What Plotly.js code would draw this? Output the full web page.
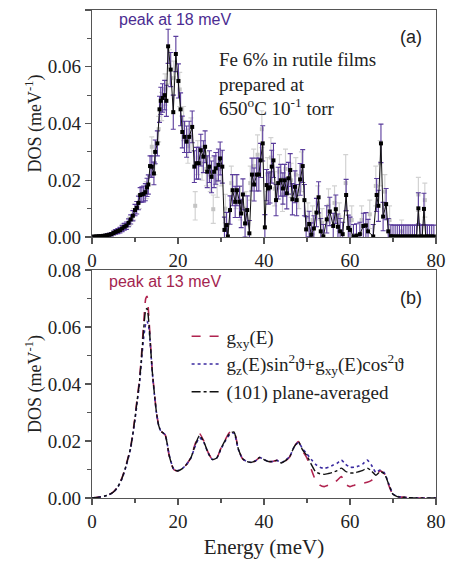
<!DOCTYPE html>
<html>
<head>
<meta charset="utf-8">
<script src="https://cdn.plot.ly/plotly-3.0.1.min.js"></script>
<style>html,body{margin:0;padding:0;background:#fff;}#chart{width:451px;height:561px;}</style>
</head>
<body>
<div id="chart"></div>
<script>
// ---------- Panel (a): measured DOS (black squares, purple error bars) ----------
const energyA = [
0.5,1,1.5,2,2.5,3,3.5,4,4.5,5,
5.5,6,6.5,7,7.5,8,8.5,9,9.5,10,
10.4,10.8,11.2,11.6,12,12.4,12.8,13.1,13.5,13.9,
14.4,14.7,15.2,15.7,16.0,16.4,16.9,17.3,17.7,18.3,
18.9,19.5,20.1,20.6,21.0,21.5,22.0,22.6,23.3,23.8,
24.3,24.8,25.3,25.9,26.3,26.8,27.3,27.8,28.4,28.8,
29.4,29.8,30.3,30.8,31.3,31.6,32.1,32.7,33.3,33.7,
34.3,34.7,35.1,35.6,36.1,36.6,37.2,37.7,38.3,38.8,
39.2,39.7,40.2,40.6,41.0,41.4,41.8,42.2,42.8,43.3,
43.9,44.4,44.8,45.3,45.7,46.1,46.6,47.2,47.6,48.4,
49.0,49.4,49.8,50.5,51.0,51.6,52.2,52.7,53.2,53.8,
54.6,55.3,56.1,56.7,57.2,57.7,58.3,59.1,59.6,60.0,
60.8,61.5,62.3,63.1,63.7,64.2,65.4,66.2,66.6,67.2,
67.7,68.4,68.9,69.5,70.0,70.5,71.0,71.5,72.0,72.5,
73.0,73.5,74.0,74.5,75.0,75.5,75.9,76.3,76.8,77.2,
77.6,78.0,78.5,79.0,79.5];
const dosA = [
0.0002,0.0002,0.0003,0.0003,0.0004,0.0005,0.0006,0.0008,0.0010,0.0014,
0.0018,0.0021,0.0024,0.0030,0.0036,0.0040,0.0050,0.0062,0.0075,0.0095,
0.0103,0.0120,0.0148,0.0150,0.0152,0.0158,0.0175,0.0185,0.0250,0.0248,
0.0224,0.0300,0.0330,0.0450,0.0480,0.0490,0.0500,0.0480,0.0672,0.0590,
0.0440,0.0645,0.0550,0.0450,0.0370,0.0353,0.0336,0.0353,0.0388,0.0248,
0.0260,0.0260,0.0306,0.0283,0.0318,0.0230,0.0248,0.0212,0.0230,0.0242,
0.0254,0.0277,0.0248,0.0025,0.0042,0.0002,0.0095,0.0165,0.0124,0.0165,
0.0124,0.0083,0.0150,0.0048,0.0095,0.0013,0.0220,0.0185,0.0220,0.0220,
0.0270,0.0330,0.0034,0.0183,0.0171,0.0175,0.0248,0.0270,0.0130,0.0190,
0.0200,0.0171,0.0200,0.0154,0.0207,0.0236,0.0133,0.0177,0.0130,0.0203,
0.0250,0.0130,0.0027,0.0046,0.0008,0.0030,0.0086,0.0140,0.0020,0.0002,
0.0062,0.0090,0.0039,0.0098,0.0036,0.0020,0.0010,0.0148,0.0032,0.0025,
0.0002,0.0005,0.0010,0.0039,0.0041,0.0020,0.0002,0.0148,0.0110,0.0330,
0.0072,0.0116,0.0020,0.0003,0.0002,0.0002,0.0002,0.0002,0.0002,0.0002,
0.0002,0.0002,0.0002,0.0002,0.0002,0.0002,0.0101,0.0002,0.0002,0.0099,
0.0002,0.0002,0.0002,0.0002,0.0002];
const errA = [
0.0003,0.0003,0.0003,0.0003,0.0004,0.0004,0.0005,0.0005,0.0006,0.0007,
0.0008,0.0009,0.0010,0.0011,0.0012,0.0013,0.0014,0.0016,0.0018,0.0020,
0.0022,0.0024,0.0026,0.0027,0.0028,0.0030,0.0032,0.0034,0.0036,0.0038,
0.0040,0.0042,0.0044,0.0046,0.0048,0.0050,0.0052,0.0055,0.0060,0.0060,
0.0060,0.0062,0.0060,0.0058,0.0056,0.0055,0.0055,0.0055,0.0056,0.0056,
0.0056,0.0056,0.0056,0.0056,0.0056,0.0056,0.0056,0.0056,0.0056,0.0056,
0.0056,0.0058,0.0058,0.0045,0.0045,0.0045,0.0050,0.0055,0.0055,0.0055,
0.0055,0.0050,0.0055,0.0048,0.0050,0.0045,0.0058,0.0058,0.0058,0.0058,
0.0060,0.0062,0.0045,0.0055,0.0055,0.0055,0.0058,0.0060,0.0055,0.0056,
0.0056,0.0055,0.0056,0.0055,0.0056,0.0058,0.0055,0.0056,0.0055,0.0056,
0.0058,0.0055,0.0045,0.0045,0.0042,0.0045,0.0050,0.0055,0.0045,0.0042,
0.0048,0.0050,0.0045,0.0050,0.0045,0.0045,0.0042,0.0055,0.0045,0.0045,
0.0042,0.0042,0.0042,0.0045,0.0045,0.0042,0.0042,0.0058,0.0055,0.0068,
0.0050,0.0055,0.0045,0.0040,0.0040,0.0040,0.0040,0.0040,0.0040,0.0040,
0.0040,0.0040,0.0040,0.0040,0.0040,0.0040,0.0055,0.0040,0.0040,0.0055,
0.0040,0.0040,0.0040,0.0040,0.0040];

// second (gray) measurement
const energyG = [5.2,7.2,8.7,9.7,11.0,12.6,13.9,14.6,15.5,16.2,17.0,18.0,19.0,20.4,21.3,22.3,23.0,24.0,24.6,25.6,
26.6,27.5,28.2,29.1,30.0,31.0,32.4,33.5,34.5,35.8,36.8,37.6,38.5,39.5,40.8,41.6,42.5,43.6,44.3,45.0,
46.3,47.4,48.1,48.7,50.2,51.3,52.5,53.5,55.0,56.4,57.5,59.0,60.4,62.7,64.6,66.0,67.0,68.1,69.2,72.0,75.9,77.4];
const dosG = [0.0016,0.0035,0.0055,0.0080,0.0125,0.0165,0.0318,0.0260,0.0380,0.0460,0.0520,0.0600,0.0560,0.0520,0.0400,0.0320,0.0360,0.0110,0.0280,0.0260,
0.0240,0.0220,0.0098,0.0200,0.0240,0.0100,0.0190,0.0160,0.0120,0.0100,0.0190,0.0250,0.0290,0.0380,0.0220,0.0280,0.0170,0.0230,0.0150,0.0240,
0.0200,0.0220,0.0160,0.0230,0.0070,0.0060,0.0120,0.0050,0.0110,0.0120,0.0070,0.0190,0.0060,0.0060,0.0080,0.0180,0.0260,0.0160,0.0060,0.0020,0.0150,0.0130];
const errG = [0.0008,0.0012,0.0015,0.0020,0.0025,0.0030,0.0035,0.0040,0.0045,0.0050,0.0055,0.0060,0.0060,0.0060,0.0060,0.0060,0.0060,0.0050,0.0060,0.0060,
0.0060,0.0060,0.0050,0.0060,0.0060,0.0050,0.0060,0.0060,0.0060,0.0060,0.0060,0.0060,0.0070,0.0065,0.0060,0.0070,0.0060,0.0060,0.0060,0.0070,
0.0060,0.0060,0.0060,0.0070,0.0050,0.0050,0.0060,0.0050,0.0060,0.0060,0.0050,0.0100,0.0050,0.0050,0.0050,0.0070,0.0080,0.0060,0.0050,0.0040,0.0060,0.0060];

// ---------- Panel (b): calculated DOS ----------
const energyB = [0,1,2,3,4,5,6,7,8,9,10,
10.5,11,11.5,12,12.5,12.8,13.2,13.6,14,14.5,15,15.5,16,
17,18,19,20,21,22,23,24,25,26,
27,28,29,30,31,32,33,34,35,36,
37,38,39,40,41,42,43,44,45,46,
47,48,49,50,51,52,53,54,55,56,
57,58,59,60,61,62,63,64,65,66,
67,68,69,70,71,72,73,74,75,80];
const gxy = [0.0000,0.0002,0.0004,0.0007,0.0012,0.0022,0.0040,0.0072,0.0120,0.0180,0.0285,
0.0350,0.0410,0.0500,0.0610,0.0700,0.0708,0.0640,0.0540,0.0450,0.0370,0.0300,0.0255,0.0235,
0.0222,0.0145,0.0100,0.0095,0.0103,0.0118,0.0142,0.0190,0.0226,0.0200,
0.0160,0.0135,0.0140,0.0175,0.0205,0.0230,0.0235,0.0175,0.0138,0.0128,
0.0125,0.0130,0.0142,0.0135,0.0128,0.0128,0.0132,0.0122,0.0130,0.0145,
0.0180,0.0198,0.0165,0.0140,0.0100,0.0062,0.0045,0.0040,0.0045,0.0050,
0.0062,0.0075,0.0048,0.0040,0.0045,0.0050,0.0052,0.0055,0.0062,0.0078,
0.0095,0.0085,0.0045,0.0012,0.0005,0.0003,0.0002,0.0001,0.0000,0.0000];
const gMixed = [0.0000,0.0002,0.0004,0.0007,0.0012,0.0021,0.0038,0.0068,0.0115,0.0175,0.0275,
0.0335,0.0395,0.0480,0.0560,0.0612,0.0620,0.0600,0.0530,0.0445,0.0365,0.0298,0.0255,0.0235,
0.0222,0.0148,0.0102,0.0096,0.0103,0.0118,0.0140,0.0182,0.0212,0.0195,
0.0158,0.0135,0.0140,0.0172,0.0200,0.0222,0.0228,0.0172,0.0138,0.0128,
0.0125,0.0130,0.0142,0.0135,0.0128,0.0128,0.0132,0.0124,0.0132,0.0147,
0.0178,0.0195,0.0172,0.0155,0.0135,0.0118,0.0108,0.0104,0.0108,0.0115,
0.0122,0.0133,0.0118,0.0108,0.0108,0.0112,0.0120,0.0133,0.0115,0.0090,
0.0098,0.0088,0.0050,0.0014,0.0006,0.0003,0.0002,0.0001,0.0000,0.0000];
const gPlane = [0.0000,0.0002,0.0004,0.0007,0.0012,0.0021,0.0039,0.0070,0.0118,0.0178,0.0280,
0.0343,0.0402,0.0490,0.0590,0.0660,0.0665,0.0620,0.0535,0.0448,0.0368,0.0299,0.0255,0.0235,
0.0222,0.0146,0.0101,0.0095,0.0103,0.0118,0.0141,0.0186,0.0219,0.0198,
0.0159,0.0135,0.0140,0.0174,0.0203,0.0226,0.0232,0.0174,0.0138,0.0128,
0.0125,0.0130,0.0142,0.0135,0.0128,0.0128,0.0132,0.0123,0.0131,0.0146,
0.0179,0.0197,0.0168,0.0148,0.0118,0.0092,0.0085,0.0083,0.0086,0.0090,
0.0096,0.0105,0.0093,0.0088,0.0088,0.0092,0.0097,0.0105,0.0095,0.0080,
0.0092,0.0085,0.0048,0.0013,0.0005,0.0003,0.0002,0.0001,0.0000,0.0000];

const legendNames = [
  'g<sub>xy</sub>(E)',
  'g<sub>z</sub>(E)sin<sup>2</sup>ϑ+g<sub>xy</sub>(E)cos<sup>2</sup>ϑ',
  '(101) plane-averaged'
];

const SERIF = 'Liberation Serif, Times New Roman, serif';
const SANS = 'Liberation Sans, Arial, sans-serif';

const traces = [
  { x: energyG, y: dosG, type: 'scatter', mode: 'markers', xaxis: 'x', yaxis: 'y', showlegend: false,
    marker: { symbol: 'square', size: 4, color: '#c4c4c4' },
    error_y: { type: 'data', array: errG, visible: true, color: '#d2d2d2', thickness: 1.2, width: 2.5 } },
  { x: energyA, y: dosA, type: 'scatter', mode: 'lines+markers', xaxis: 'x', yaxis: 'y', showlegend: false,
    line: { color: '#111', width: 1 },
    marker: { symbol: 'square', size: 4, color: '#000' },
    error_y: { type: 'data', array: errA, visible: true, color: '#5a3c9c', thickness: 1.1, width: 2.5 } },
  { x: energyB, y: gxy, type: 'scatter', mode: 'lines', xaxis: 'x2', yaxis: 'y2', name: legendNames[0],
    line: { color: '#b0234f', width: 1.6, dash: 'dash', shape: 'spline', smoothing: 0.6 } },
  { x: energyB, y: gMixed, type: 'scatter', mode: 'lines', xaxis: 'x2', yaxis: 'y2', name: legendNames[1],
    line: { color: '#3a2aa0', width: 1.6, dash: 'dot', shape: 'spline', smoothing: 0.6 } },
  { x: energyB, y: gPlane, type: 'scatter', mode: 'lines', xaxis: 'x2', yaxis: 'y2', name: legendNames[2],
    line: { color: '#111', width: 1.4, dash: 'dashdot', shape: 'spline', smoothing: 0.6 } }
];

const axisCommon = {
  showline: true, linecolor: '#555', linewidth: 1.2, mirror: true,
  ticks: 'outside', ticklen: 6, tickwidth: 1.2, tickcolor: '#555',
  showgrid: false, zeroline: false,
  tickfont: { family: SERIF, size: 19, color: '#222' }
};
const xCommon = Object.assign({}, axisCommon, {
  range: [0, 80], tickvals: [0, 20, 40, 60, 80],
  minor: { ticks: 'outside', ticklen: 3.5, tickwidth: 1.1, tickcolor: '#555', dtick: 10 }
});
const yCommon = Object.assign({}, axisCommon, {
  range: [0, 0.08], tickvals: [0, 0.02, 0.04, 0.06, 0.08], tickformat: '.2f',
  minor: { ticks: 'outside', ticklen: 3.5, tickwidth: 1.1, tickcolor: '#555', dtick: 0.01 },
  title: { text: 'DOS (meV<sup>-1</sup>)', font: { family: SERIF, size: 18, color: '#222' }, standoff: 1 }
});

const layout = {
  width: 451, height: 561,
  margin: { l: 92, r: 15, t: 10, b: 63 },
  paper_bgcolor: '#fff', plot_bgcolor: '#fff',
  showlegend: true,
  xaxis: Object.assign({}, xCommon, { anchor: 'y' }),
  yaxis: Object.assign({}, yCommon, { domain: [0.5348, 1], anchor: 'x' }),
  xaxis2: Object.assign({}, xCommon, { anchor: 'y2',
    title: { text: 'Energy (meV)', font: { family: SERIF, size: 21, color: '#222' }, standoff: 8 } }),
  yaxis2: Object.assign({}, yCommon, { domain: [0, 0.4672], anchor: 'x2' }),
  legend: {
    x: 0.275, y: 0.37, xanchor: 'left', yanchor: 'top',
    bgcolor: 'rgba(0,0,0,0)', borderwidth: 0,
    font: { family: SERIF, size: 19, color: '#222' },
    tracegroupgap: 0
  },
  annotations: [
    { text: 'peak at 18 meV', x: 19.3, y: 0.0765, xref: 'x', yref: 'y', showarrow: false,
      font: { family: SANS, size: 16, color: '#4b2c91' } },
    { text: '(a)', x: 74.2, y: 0.0704, xref: 'x', yref: 'y', showarrow: false,
      font: { family: SANS, size: 18, color: '#222' } },
    { text: 'Fe 6% in rutile films<br>prepared at<br>650<sup>o</sup>C 10<sup>-1</sup> torr',
      x: 29.0, y: 0.054, xref: 'x', yref: 'y', xanchor: 'left', yanchor: 'middle', align: 'left',
      showarrow: false, font: { family: SERIF, size: 19, color: '#222' } },
    { text: 'peak at 13 meV', x: 17.0, y: 0.0758, xref: 'x2', yref: 'y2', showarrow: false,
      font: { family: SANS, size: 16, color: '#a3244f' } },
    { text: '(b)', x: 74.2, y: 0.0702, xref: 'x2', yref: 'y2', showarrow: false,
      font: { family: SANS, size: 18, color: '#222' } }
  ]
};

Plotly.newPlot('chart', traces, layout, { displayModeBar: false, staticPlot: true });
</script>
</body>
</html>
